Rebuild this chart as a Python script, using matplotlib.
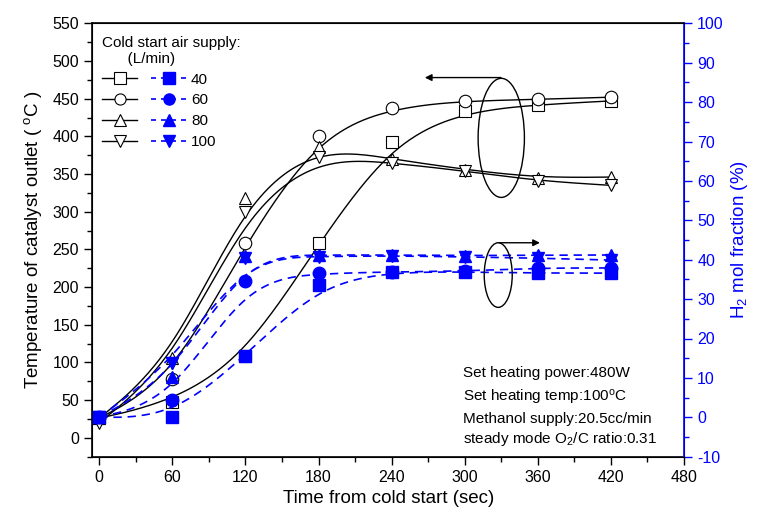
import numpy as np
import matplotlib
matplotlib.use("Agg")
import matplotlib.pyplot as plt
from matplotlib.patches import Ellipse
from matplotlib.legend_handler import HandlerTuple
from matplotlib.ticker import MultipleLocator

plt.rcParams['font.family'] = ['Liberation Sans', 'DejaVu Sans']
plt.rcParams['mathtext.fontset'] = 'custom'
plt.rcParams['mathtext.rm'] = 'Liberation Sans'
plt.rcParams['mathtext.it'] = 'Liberation Sans:italic'
plt.rcParams['axes.unicode_minus'] = False

# data
time = [0, 60, 120, 180, 240, 300, 360, 420]
air = ["40", "60", "80", "100"]
temp = {
    "40":  [26, 48, 108, 258, 392, 433, 442, 447],
    "60":  [26, 78, 259, 401, 438, 447, 449, 452],
    "80":  [26, 106, 318, 386, 370, 356, 345, 346],
    "100": [20, 99, 300, 372, 365, 354, 341, 335],
}
h2 = {
    "40":  [0, 0, 15.6, 33.6, 36.9, 36.9, 36.6, 36.6],
    "60":  [0, 4.4, 34.6, 36.5, 36.9, 37.1, 37.9, 37.9],
    "80":  [0, 10.3, 40.9, 41.2, 41.2, 41.0, 41.2, 41.2],
    "100": [0, 13.7, 40.4, 40.8, 41.0, 40.7, 40.4, 39.9],
}
hollow = {"40": "s", "60": "o", "80": "^", "100": "v"}


def bspline(x, y, n=40):
    # clamped uniform cubic B-spline using the data points as control points
    px = np.concatenate([[x[0]] * 2, x, [x[-1]] * 2]).astype(float)
    py = np.concatenate([[y[0]] * 2, y, [y[-1]] * 2]).astype(float)
    t = np.linspace(0, 1, n)
    b0 = (1 - t) ** 3 / 6
    b1 = (3 * t ** 3 - 6 * t ** 2 + 4) / 6
    b2 = (-3 * t ** 3 + 3 * t ** 2 + 3 * t + 1) / 6
    b3 = t ** 3 / 6
    xs, ys = [], []
    for i in range(len(px) - 3):
        xs.append(b0 * px[i] + b1 * px[i + 1] + b2 * px[i + 2] + b3 * px[i + 3])
        ys.append(b0 * py[i] + b1 * py[i + 1] + b2 * py[i + 2] + b3 * py[i + 3])
    return np.concatenate(xs), np.concatenate(ys)


fig = plt.figure(figsize=(7.63, 5.25), dpi=100)
ax = fig.add_axes([92.3 / 763, 1 - 456.7 / 525, (684 - 92.3) / 763, (456.7 - 23.3) / 525])
ax2 = ax.twinx()

handles = []
for a in air:
    sx, sy = bspline(time, temp[a])
    ax.plot(sx, sy, color="black", lw=1.0, zorder=2)
    ax.plot(time, temp[a], ls="none", marker=hollow[a], ms=9, mfc="white",
            mec="black", mew=0.8, zorder=3)
    hx, hy = bspline(time, h2[a])
    ax2.plot(hx, hy, color="blue", lw=1.2, ls=(0, (5, 3.5)), zorder=2)
    ax2.plot(time, h2[a], ls="none", marker=hollow[a], ms=9, mfc="blue",
             mec="blue", zorder=3)
    l1 = plt.Line2D([], [], color="black", lw=1.0, marker=hollow[a], ms=8,
                    mfc="white", mec="black", mew=0.8)
    l2 = plt.Line2D([], [], color="blue", lw=1.2, ls=(0, (3, 3)), marker=hollow[a],
                    ms=8, mfc="blue", mec="blue")
    handles.append((l1, l2))

ax.set_xlim(-5.7, 480)
ax.set_ylim(-25, 550)
ax2.set_ylim(-10, 100)

ax.xaxis.set_major_locator(MultipleLocator(60))
ax.xaxis.set_minor_locator(MultipleLocator(30))
ax.yaxis.set_major_locator(MultipleLocator(50))
ax.yaxis.set_minor_locator(MultipleLocator(25))
ax2.yaxis.set_major_locator(MultipleLocator(10))
ax2.yaxis.set_minor_locator(MultipleLocator(5))

ax.tick_params(axis="both", which="major", labelsize=11.5, length=6, width=1, direction="out")
ax.tick_params(axis="both", which="minor", length=3.5, width=1, direction="out")
ax2.tick_params(axis="y", which="major", labelsize=11.5, length=6, width=1,
                colors="blue", direction="out")
ax2.tick_params(axis="y", which="minor", length=3.5, width=1, colors="blue", direction="out")
ax2.spines["right"].set_color("blue")
ax2.spines["right"].set_linewidth(1.2)
for s in ["left", "bottom", "top"]:
    ax.spines[s].set_linewidth(1.2)

ax.set_xlabel("Time from cold start (sec)", fontsize=13.5, labelpad=4)
ax.set_ylabel("Temperature of catalyst outlet ( $^{\\rm o}$C )", fontsize=13.5, labelpad=6)
ax2.set_ylabel("H$_2$ mol fraction (%)", fontsize=13.5, color="blue", labelpad=4)

# ellipses and arrows
ax.add_patch(Ellipse((330, 398), 38, 158, fill=False, ec="black", lw=1.0, zorder=4))
ax.annotate("", xy=(265, 478), xytext=(332, 478),
            arrowprops=dict(arrowstyle="-|>", color="black", lw=1.0, mutation_scale=10))
ax2.add_patch(Ellipse((327.5, 36.1), 23, 16.4, fill=False, ec="black", lw=1.0, zorder=4))
ax2.annotate("", xy=(364, 44.3), xytext=(326, 44.3),
             arrowprops=dict(arrowstyle="-|>", color="black", lw=1.0, mutation_scale=10))

notes = ["Set heating power:480W",
         "Set heating temp:100$^{\\rm o}$C",
         "Methanol supply:20.5cc/min",
         "steady mode O$_2$/C ratio:0.31"]
note_y = [373, 398, 419, 439]
for txt, yy in zip(notes, note_y):
    fig.text(463 / 763, 1 - yy / 525, txt, fontsize=11, va="center", ha="left")

leg = ax.legend(handles, air, handler_map={tuple: HandlerTuple(ndivide=None, pad=0.9)},
                title="Cold start air supply:\n      (L/min)", title_fontsize=11,
                fontsize=11, loc="upper left", bbox_to_anchor=(-0.005, 1.0),
                frameon=False, handlelength=5.6, handletextpad=0.25,
                labelspacing=0.45, borderpad=0.3, alignment="left")

fig.savefig("out.png", dpi=100)
